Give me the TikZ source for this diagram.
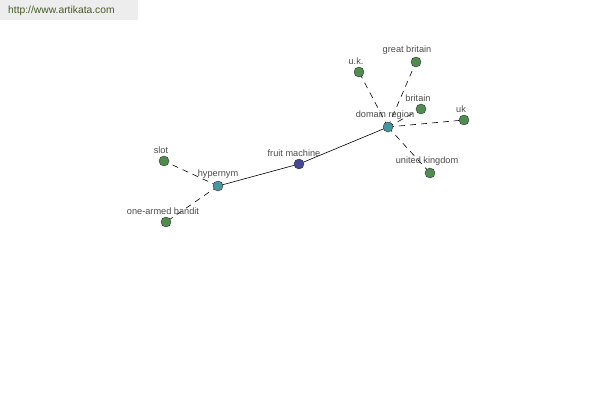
\documentclass[tikz,border=0pt]{standalone}
\usepackage{fontspec}
\setmainfont{Liberation Sans}
\usetikzlibrary{positioning}
\definecolor{leaf}{RGB}{80,140,80}
\definecolor{hub}{RGB}{70,150,160}
\definecolor{root}{RGB}{70,70,150}
\definecolor{site}{RGB}{70,90,40}
\begin{document}
\begin{tikzpicture}[x=1pt,y=-1pt,
	dot/.style={draw=black!80,circle,minimum size=10pt,inner sep=0pt},
	lbl/.style={font=\fontsize{9.2}{10}\selectfont,text=black!70,inner sep=0pt,label distance=2pt,xshift=-3pt},
	dsh/.style={semithick,dash pattern=on 6pt off 5pt}]
\useasboundingbox (0,0) rectangle (600,400);
\fill [black!7] (0,0) rectangle (138,20);
\node [font=\fontsize{10.3}{11}\selectfont, text=site, anchor=west, inner sep=0pt] (url) at (8,11) {http://www.artikata.com};
% edges first, nodes on top
\coordinate (c0) at (218,186);
\coordinate (c1) at (299,164);
\coordinate (c2) at (388,127);
\draw [dsh] (c0) -- (164,161);
\draw [dsh] (c0) -- (166,222);
\draw [dsh] (c2) -- (359,72);
\draw [dsh] (c2) -- (416,62);
\draw [dsh] (c2) -- (421,109);
\draw [dsh] (c2) -- (464,120);
\draw [dsh] (c2) -- (430,173);
\draw [semithick] (c0)--(c1);
\draw [semithick] (c1)--(c2);
\node [dot, fill=hub, label={[lbl,xshift=3pt]above:hypernym}] (0) at (c0) {};
\node [dot, fill=root, label={[lbl,xshift=-2pt]above:fruit machine}] (1) at (c1) {};
\node [dot, fill=hub, label={[lbl]above:domain region}] (2) at (c2) {};
\node [dot, fill=leaf, label={[lbl]above:slot}] (3) at (164,161) {};
\node [dot, fill=leaf, label={[lbl]above:one-armed bandit}] (4) at (166,222) {};
\node [dot, fill=leaf, label={[lbl]above:u.k.}] (5) at (359,72) {};
\node [dot, fill=leaf, label={[lbl,xshift=-6pt]above:great britain}] (6) at (416,62) {};
\node [dot, fill=leaf, label={[lbl]above:britain}] (7) at (421,109) {};
\node [dot, fill=leaf, label={[lbl]above:uk}] (8) at (464,120) {};
\node [dot, fill=leaf, label={[lbl]above:united kingdom}] (9) at (430,173) {};
\end{tikzpicture}
\end{document}
